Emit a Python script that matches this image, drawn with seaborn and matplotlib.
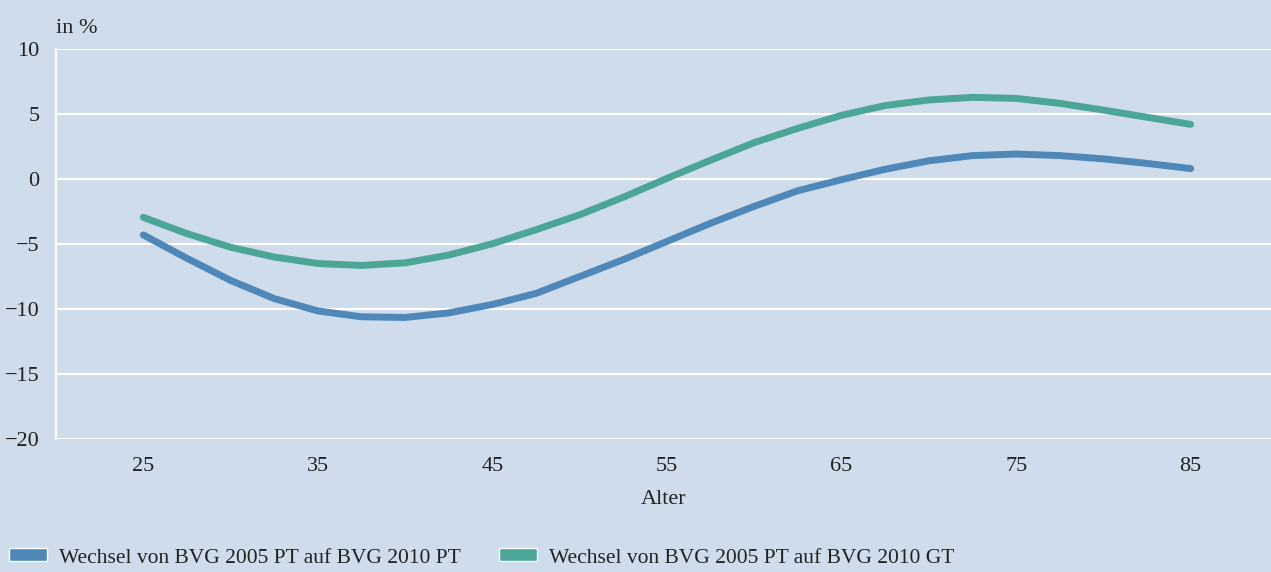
import numpy as np
import pandas as pd
import matplotlib.pyplot as plt
import seaborn as sns
from matplotlib.patches import Patch

# Werte (alle 2,5 Jahre)
alter = [25, 27.5, 30, 32.5, 35, 37.5, 40, 42.5, 45, 47.5, 50, 52.5, 55,
         57.5, 60, 62.5, 65, 67.5, 70, 72.5, 75, 77.5, 80, 82.5, 85]
pt_werte = [-4.3, -6.1, -7.8, -9.2, -10.15, -10.6, -10.65, -10.3, -9.65,
            -8.8, -7.5, -6.2, -4.8, -3.4, -2.1, -0.9, -0.05,
            0.75, 1.4, 1.8, 1.92, 1.8, 1.55, 1.2, 0.8]
gt_werte = [-2.95, -4.2, -5.25, -6.0, -6.5, -6.65, -6.45, -5.85, -4.98,
            -3.9, -2.75, -1.4, 0.05, 1.45, 2.8, 3.9, 4.9,
            5.65, 6.08, 6.28, 6.2, 5.82, 5.3, 4.75, 4.2]

serie_pt = 'Wechsel von BVG 2005 PT auf BVG 2010 PT'
serie_gt = 'Wechsel von BVG 2005 PT auf BVG 2010 GT'

y_ticks = [10, 5, 0, -5, -10, -15, -20]
y_labels = ['10', '5', '0', '\u22125', '\u221210', '\u221215', '\u221220']
x_ticks = [25, 35, 45, 55, 65, 75, 85]

bg = '#cfdcec'
farben = {serie_pt: '#4f88b8', serie_gt: '#4ba697'}

df = pd.DataFrame({
    'Alter': alter * 2,
    'Wert': pt_werte + gt_werte,
    'Serie': [serie_pt] * len(alter) + [serie_gt] * len(alter),
})

sns.set_style('white')
plt.rcParams['font.family'] = ['Liberation Serif', 'DejaVu Serif']

fig = plt.figure(figsize=(12.71, 5.72), dpi=100, facecolor=bg)
ax = fig.add_axes([56/1271, 1 - 439/572, 1 - 56/1271, (439 - 49)/572])
ax.set_facecolor(bg)

sns.lineplot(
    data=df, x='Alter', y='Wert', hue='Serie',
    palette=farben, linewidth=5, legend=False, ax=ax,
    solid_capstyle='round', solid_joinstyle='round'
)

ax.set_xlim(20, 89.6)
ax.set_ylim(-20, 10)
ax.set_yticks(y_ticks)
ax.set_yticklabels(y_labels)
ax.set_xticks(x_ticks)
ax.grid(axis='y', color='white', linewidth=1.5)
ax.set_axisbelow(True)

for s in ['top', 'right', 'bottom']:
    ax.spines[s].set_visible(False)
ax.spines['left'].set_color('white')
ax.spines['left'].set_linewidth(1.5)

ax.tick_params(axis='y', length=0, pad=12, labelsize=16, colors='#222222')
ax.tick_params(axis='x', length=0, pad=13, labelsize=16, colors='#222222')
ax.set_xlabel('Alter', fontsize=16, color='#222222', labelpad=10)
ax.set_ylabel('')

fig.text(56/1271, 1 - 33/572, 'in %', fontsize=16, color='#222222', ha='left', va='baseline')

handles = [Patch(facecolor=farben[serie_pt]), Patch(facecolor=farben[serie_gt])]
fig.legend(
    handles, [serie_pt, serie_gt], loc='center left',
    bbox_to_anchor=(9/1271, 14/572), ncol=2, frameon=False,
    fontsize=15.5, handlelength=1.75, handleheight=0.55,
    handletextpad=0.55, columnspacing=1.8, borderpad=0, borderaxespad=0,
    labelcolor='#222222'
)

fig.savefig('out.png', dpi=100, facecolor=bg)
